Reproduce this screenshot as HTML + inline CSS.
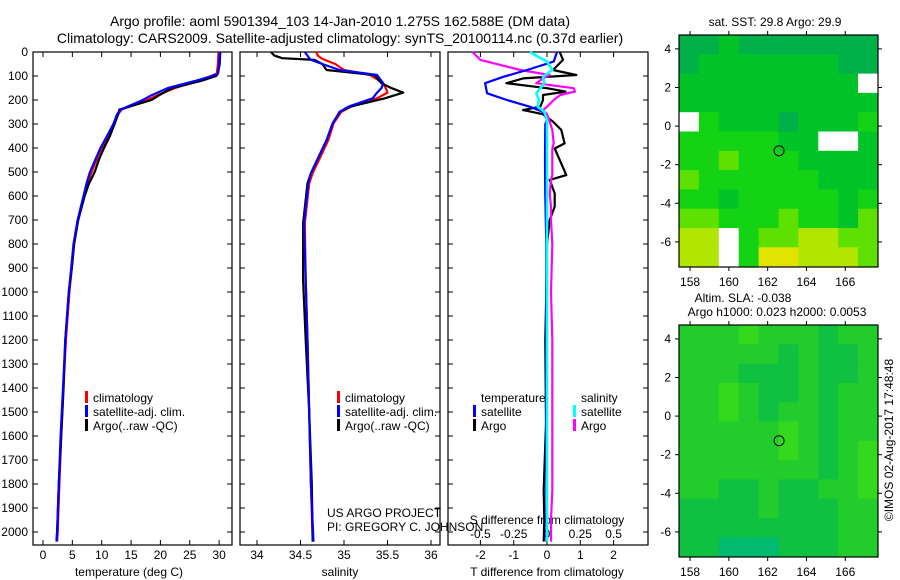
<!DOCTYPE html>
<html><head><meta charset="utf-8"><style>
body{margin:0;background:#fff;}
svg{display:block;font-family:"Liberation Sans",sans-serif;}
text{fill:#000;}
</style></head><body>
<svg id="c" width="900" height="580" viewBox="0 0 900 580">
<text x="340" y="26" font-size="14" text-anchor="middle">Argo profile: aoml 5901394_103 14-Jan-2010 1.275S 162.588E (DM data)</text>
<text x="340" y="43" font-size="14" text-anchor="middle">Climatology: CARS2009. Satellite-adjusted climatology: synTS_20100114.nc (0.37d earlier)</text>
<text x="775" y="26" font-size="12" text-anchor="middle">sat. SST: 29.8 Argo: 29.9</text>
<text x="743" y="302" font-size="12" text-anchor="middle">Altim. SLA: -0.038</text>
<text x="777" y="316" font-size="12" text-anchor="middle">Argo h1000: 0.023 h2000: 0.0053</text>
<text transform="translate(893,440) rotate(-90)" font-size="12" text-anchor="middle">©IMOS 02-Aug-2017 17:48:48</text>
<text x="327" y="517" font-size="12">US ARGO PROJECT</text>
<text x="327" y="531" font-size="12">PI: GREGORY C. JOHNSON</text>
<g id="plots"></g>
</svg>
<script>
// ---- data ----
const depthT = [0,50,90,100,120,150,180,200,240,260,300,350,400,450,500,550,600,700,800,900,1000,1200,1400,1600,1800,2000,2040];
const tempClim = [29.9,29.8,29.6,28.6,26.5,22.5,19.5,17.8,13.4,12.8,12.0,11.0,10.0,9.1,8.3,7.5,7.0,6.0,5.3,4.9,4.5,3.9,3.5,3.1,2.8,2.5,2.4];
const tempSat = [30.1,30.0,29.8,28.8,26.0,21.3,18.5,17.0,13.2,12.6,12.0,10.9,9.8,8.9,8.0,7.4,6.9,5.9,5.2,4.8,4.4,3.8,3.4,3.0,2.7,2.4,2.3];
const tempArgo = [30.2,30.1,29.8,29.5,27.0,22.0,19.8,18.5,13.0,12.8,12.2,11.4,10.4,9.5,8.8,7.8,7.1,6.0,5.3,4.9,4.4,3.8,3.5,3.1,2.7,2.4,2.3];
const depthS = [0,15,26,33,50,75,96,130,151,169,193,228,249,297,367,505,547,714,950,1200,1500,1800,2040];
const salClim = [34.68,34.7,34.74,34.78,34.9,35.0,35.3,35.45,35.48,35.5,35.38,35.08,34.97,34.88,34.82,34.64,34.6,34.55,34.56,34.58,34.6,34.62,34.64];
const salSat = [34.55,34.58,34.6,34.62,34.75,34.95,35.38,35.45,35.43,35.38,35.33,35.05,34.95,34.87,34.8,34.62,34.59,34.54,34.56,34.58,34.6,34.62,34.65];
const salArgo = [34.16,34.2,34.29,34.66,34.75,34.8,35.35,35.43,35.55,35.68,35.47,35.07,34.95,34.87,34.8,34.62,34.58,34.53,34.53,34.56,34.6,34.63,34.64];
const depthD1 = [0,40,75,103,130,172,200,228,249,283,300,450,600,800,1200,1600,2040];
const dTsat = [0.3,0.2,-0.6,-1.3,-1.86,-1.8,-1.2,-0.52,-0.12,0,-0.05,-0.06,-0.05,-0.02,-0.02,-0.02,-0.02];
const dSsat = [-0.13,0,0.04,-0.03,-0.02,-0.08,-0.06,-0.07,-0.02,0,0,0,0,0,0,0,0];
const depthD2 = [0,33,75,96,110,130,151,165,179,200,228,242,259,290,325,381,402,513,533,589,644,700,800,1000,1200,1550,1825,1950,2040];
const dTargo = [0.38,0.48,0.18,0.88,-0.72,-1.22,0,0.56,-0.12,-0.12,-0.2,-0.72,-0.12,0.18,0.43,0.53,0.23,0.58,0.08,0.23,0.23,0.08,0.0,-0.02,-0.05,-0.03,-0.1,-0.08,-0.1];
const dSargo = [-0.56,-0.5,-0.2,0.02,-0.03,-0.08,0.2,0.21,0.1,0.05,0.0,-0.03,0.0,0.02,0.04,0.05,0.04,0.04,0.03,0.02,0.03,0.03,0.04,0.03,0.04,0.04,0.04,0.03,0.03];
const depthTicks = [0,100,200,300,400,500,600,700,800,900,1000,1100,1200,1300,1400,1500,1600,1700,1800,1900,2000];
const tempTicks = [0,5,10,15,20,25,30];
const salTicks = [34,34.5,35,35.5,36];
const salTickLabels = ["34","34.5","35","35.5","36"];
const dTTicks = [-2,-1,0,1,2];
const dSTicks = [-0.5,-0.25,0,0.25,0.5];
const dSTickLabels = ["-0.5","-0.25","0","0.25","0.5"];
const lonTicks = [158,160,162,164,166];
const latTicks = [4,2,0,-2,-4,-6];
// SST map grid (rows north->south, 1 deg lat each from 4.7; cols 1 deg lon from 157.4). W = missing
const sstRows = ["0010000000","0111111100","111111111W","1111111111","W211101112","2222211WW1","2232221111","3222222111","2212222212","332223221 3".replace(" ",""),"44W2334433","44W2554443"];
const slaRows = ["2223222122","2222212112","2221112112","2232112122","2232122122","2222232122","2222232123","2222222123","2211211223","1111211122","1111111122","1100011122"];
const sstColors = ["#00b048","#00c428","#14d214","#5ee000","#b0e600","#e0e400"];
const slaColors = ["#00ba70","#10c040","#22cc2c","#34d81c"];
const floatLon = 162.588, floatLat = -1.275;

// ---- scales ----
const yD = d => 52 + d*0.24;
const xTemp = t => 43 + t*5.87;
const xSal = s => 257 + (s-34)*87;
const xDT = v => 547 + v*33.3;
const xDS = v => 547 + v*133.2;
const mapX = lon => 679 + (lon-157.43)*19.4;
const latY1 = lat => 35 + (4.72-lat)*19.3;
const latY2 = lat => 325 + (4.72-lat)*19.3;

const NS="http://www.w3.org/2000/svg";
const g=document.getElementById('plots');
function mk(tag,attrs,parent){const e=document.createElementNS(NS,tag);for(const k in attrs)e.setAttribute(k,attrs[k]);(parent||g).appendChild(e);return e;}
function txt(x,y,s,anchor,size){const e=mk('text',{x:x,y:y,'font-size':size||12,'text-anchor':anchor||'middle'});e.textContent=s;return e;}
function line(xs,ys,color,name,w){
  let d='';for(let i=0;i<xs.length;i++)d+=(i?'L':'M')+xs[i].toFixed(1)+','+ys[i].toFixed(1);
  const p=mk('path',{d:d,fill:'none',stroke:color,'stroke-width':w||2.2,'stroke-linejoin':'round'});
  
  
}
function frame(x0,x1,name){
  const r=mk('rect',{x:x0,y:52,width:x1-x0,height:493,fill:'none',stroke:'#000','stroke-width':1.2});
  
  
  depthTicks.forEach(d=>{mk('line',{x1:x0,x2:x0+5,y1:yD(d),y2:yD(d),stroke:'#000'});mk('line',{x1:x1-5,x2:x1,y1:yD(d),y2:yD(d),stroke:'#000'});});
}
function xticks(vals,fx,labels,y){vals.forEach((v,i)=>{const x=fx(v);mk('line',{x1:x,x2:x,y1:52,y2:57,stroke:'#000'});mk('line',{x1:x,x2:x,y1:540,y2:545,stroke:'#000'});if(labels){const t=txt(x,y,labels[i]);}});}

// panel 1
frame(33,232,'temperature-panel');
depthTicks.forEach(d=>{const t=txt(28,yD(d)+4,String(d),'end');});
xticks(tempTicks,xTemp,tempTicks.map(String),559);
txt(129,576,'temperature (deg C)');
line(tempClim.map(xTemp),depthT.map(yD),'#ff0000','temp-climatology-line');
line(tempArgo.map(xTemp),depthT.map(yD),'#000000','temp-argo-line');
line(tempSat.map(xTemp),depthT.map(yD),'#0000ff','temp-satellite-line');
// panel 2
frame(240,440,'salinity-panel');
xticks(salTicks,xSal,salTickLabels,559);
txt(340,576,'salinity');
line(salClim.map(xSal),depthS.map(yD),'#ff0000','sal-climatology-line');
line(salArgo.map(xSal),depthS.map(yD),'#000000','sal-argo-line');
line(salSat.map(xSal),depthS.map(yD),'#0000ff','sal-satellite-line');
// panel 3
frame(448,648,'difference-panel');
xticks(dTTicks,xDT,dTTicks.map(String),559);
dSTicks.forEach((v,i)=>{const t=txt(xDS(v),538,dSTickLabels[i]);});
txt(547,524,'S difference from climatology');
txt(547,576,'T difference from climatology');
line(dTargo.map(xDT),depthD2.map(yD),'#000000','t-diff-argo-line');
line(dSargo.map(xDS),depthD2.map(yD),'#ff00ff','s-diff-argo-line');
line(dTsat.map(xDT),depthD1.map(yD),'#0000ff','t-diff-satellite-line');
line(dSsat.map(xDS),depthD1.map(yD),'#00ffff','s-diff-satellite-line',2.6);

// legends
function legend(x,y,color,label){mk('rect',{x:x,y:y-11,width:3,height:12,fill:color});const t=txt(x+8,y,label,'start');}
legend(85,402,'#ff0000','climatology');legend(85,416,'#0000ff','satellite-adj. clim.');legend(85,430,'#000','Argo(..raw -QC)');
legend(337,402,'#ff0000','climatology');legend(337,416,'#0000ff','satellite-adj. clim.');legend(337,430,'#000','Argo(..raw -QC)');
txt(481,402,'temperature','start');txt(581,402,'salinity','start');
legend(473,416,'#0000ff','satellite');legend(473,430,'#000','Argo');
legend(573,416,'#00ffff','satellite');legend(573,430,'#ff00ff','Argo');

// maps
function map(rows,colors,fy,y0,name){
  const cw=19.9, ch=19.3;
  rows.forEach((r,i)=>{for(let j=0;j<r.length;j++){const c=r[j];
    const cell=mk('rect',{x:(679+j*cw).toFixed(1),y:(y0+i*ch).toFixed(1),width:cw+0.5,height:ch+0.5,fill:c==='W'?'#ffffff':colors[+c]});
    
    }});
  const fr=mk('rect',{x:679,y:y0,width:199,height:232,fill:'none',stroke:'#000','stroke-width':1.2});
  
  
  lonTicks.forEach(l=>{const x=mapX(l);mk('line',{x1:x,x2:x,y1:y0,y2:y0-4,stroke:'#000'});mk('line',{x1:x,x2:x,y1:y0+232,y2:y0+236,stroke:'#000'});txt(x,y0+251,String(l));});
  latTicks.forEach(l=>{const y=fy(l);mk('line',{x1:675,x2:679,y1:y,y2:y,stroke:'#000'});mk('line',{x1:878,x2:882,y1:y,y2:y,stroke:'#000'});txt(671,y+4,String(l),'end');});
  const m=mk('circle',{cx:mapX(floatLon),cy:fy(floatLat),r:5,fill:'none',stroke:'#000','stroke-width':1});
  
  
}
map(sstRows,sstColors,latY1,35,'sst-map');
map(slaRows,slaColors,latY2,325,'sla-map');
</script>
</body></html>
